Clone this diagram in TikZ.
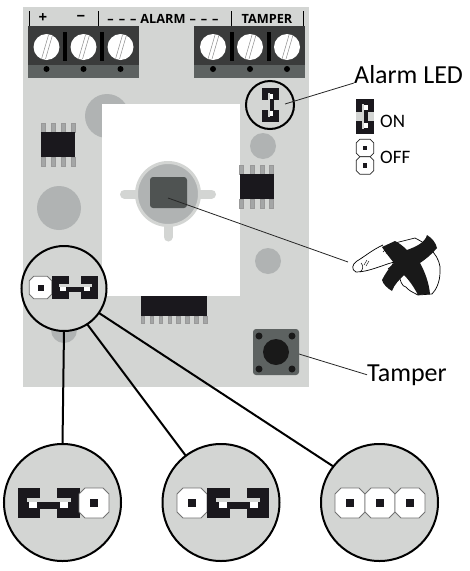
\documentclass[tikz,border=0pt]{standalone}
\usepackage{fontspec}
\setmainfont{Carlito}
\newfontfamily\boardfont[Scale=1]{Open Sans}
\definecolor{boardgrey}{HTML}{D3D5D3}
\definecolor{padgrey}{HTML}{B0B3B3}
\definecolor{termdark}{HTML}{3A3B3B}
\definecolor{termgrey}{HTML}{5D6261}
\definecolor{chipblack}{HTML}{1A181D}
\definecolor{leggrey}{HTML}{A4A6A6}
\colorlet{pinedge}{black!55}
\tikzstyle{pad} = [fill=padgrey]
\tikzstyle{disc} = [circle, draw=black, line width=2pt, fill=boardgrey, inner sep=0pt, outer sep=0pt]
\tikzstyle{wire} = [line width=2pt, black]
\tikzstyle{leader} = [line width=0.8pt, black!85]
\tikzstyle{callout} = [inner sep=0pt, font=\fontsize{26}{26}\selectfont]
\tikzstyle{state} = [inner sep=0pt, anchor=west, font=\fontsize{19}{19}\selectfont]
\tikzstyle{heading} = [inner sep=0pt, font=\boardfont\bfseries\fontsize{12.7}{13}\selectfont]
\tikzstyle{sign} = [inner sep=0pt, font=\boardfont\bfseries\fontsize{15}{15}\selectfont]
\tikzstyle{leg} = [fill=leggrey, draw=black!40, line width=0.3pt]
\tikzset{
  openpin/.pic={
    \draw[fill=white, draw=pinedge, line width=0.8pt]
      (-9,-15) -- (9,-15) -- (15,-9) -- (15,9) -- (9,15) -- (-9,15) -- (-15,9) -- (-15,-9) -- cycle;
    \fill[chipblack] (-4,-4) rectangle (4,4);
  },
  closedpair/.pic={
    \fill[chipblack] (-31,-15) rectangle (-8.5,15);
    \fill[chipblack] (8.5,-15) rectangle (31,15);
    \fill[boardgrey] (-8.5,-15) rectangle (8.5,-5);
    \fill[boardgrey] (-8.5,6) rectangle (8.5,15);
    \fill[boardgrey] (-22,-5) rectangle (22,-1);
    \fill[chipblack] (-12,-1) rectangle (12,6);
    \fill[white] (-19.5,-1) rectangle (-11.5,5);
    \fill[white] (11.5,-1) rectangle (19.5,5);
  },
  screw/.pic={
    \fill[white] (0,0) circle (13);
    \draw[black!45, line width=0.5pt] (-5,12) -- (2,-12) (-1,12) -- (6,-12);
  },
  soic/.pic={
    \foreach \px in {0,10.3,20.6,30} {
      \draw[leg] (\px,-9) rectangle ++(4,9);
      \draw[leg] (\px,25) rectangle ++(4,9);
    }
    \fill[chipblack] (0,0) rectangle (34,25);
  }
}
\begin{document}
\begin{tikzpicture}[x=1pt, y=-1pt]
  \useasboundingbox (0,0) rectangle (470,571);

  % board
  \fill[boardgrey] (23,7) rectangle (309,387);
  \fill[pad] (107,116) circle (22);
  \fill[pad] (59,208) circle (22);
  \fill[pad] (263,146) circle (13);
  \fill[pad] (268,261) circle (13);
  \fill[pad] (64,330) circle (13);
  \fill[white] (102,104) rectangle (239.5,296);

  % terminals
  \foreach \tx/\sa/\sb/\sc in {28/46.5/83.5/120.5, 194/213/250/287} {
    \fill[termdark] (\tx,26) rectangle ++(111,39);
    \fill[termgrey] (\tx,65) rectangle ++(111,13);
    \foreach \sx in {\sa,\sb,\sc} {
      \pic at (\sx,47) {screw};
      \fill[black] (\sx,69) circle (3);
    }
    \fill[black] (\sa+16.5,32) rectangle ++(4,29);
    \fill[black] (\sb+16.5,32) rectangle ++(4,29);
  }
  \foreach \tickx in {29.5,98.5,231.5,303} {
    \draw[black, line width=0.6pt] (\tickx,11) -- (\tickx,26);
  }
  \node[sign] (plus) at (43,18) {+};
  \node[sign] (minus) at (81,18) {\textminus};
  \node[heading] (alarm) at (163,18.5) {–\hspace{5pt}–\hspace{5pt}–\hspace{4pt}ALARM\hspace{4pt}–\hspace{5pt}–\hspace{5pt}–};
  \node[heading] (tamper) at (267,18.5) {TAMPER};

  % chips
  \pic at (41,132) {soic};
  \pic at (239.5,174) {soic};
  \foreach \i in {0,...,7} {
    \draw[leg] (141+\i*8.9,316) rectangle ++(3.6,7.5);
  }
  \fill[chipblack] (141,296) rectangle (207,316);

  % sensor
  \draw[boardgrey, line width=9pt, line cap=round] (124.5,194) -- (211.5,194);
  \draw[boardgrey, line width=9pt, line cap=round] (168,194) -- (168,237);
  \fill[padgrey, draw=boardgrey, line width=3pt] (168,194) circle (31.5);
  \fill[termgrey!85!black, rounded corners=3pt] (150,177) rectangle (187,208);

  % tamper button
  \fill[termgrey, rounded corners=3pt] (253,329) rectangle (299,375);
  \fill[black!90] (276,352) circle (13);
  \foreach \bx/\by in {259/336, 292/336, 259/369, 292/369} {
    \fill[black!90] (\bx,\by) circle (3.5);
  }

  % finger
  \draw[black, line width=0.7pt, fill=white]
    (383,245) .. controls (372,250) and (364,257) .. (357,261)
    .. controls (352,264) and (351,270) .. (356,272)
    .. controls (368,272) and (380,266) .. (394,262)
    .. controls (393,265) and (391,267) .. (388,269);
  \draw[black, line width=0.7pt]
    (395,243) -- (415,238) .. controls (428,244) and (442,258) .. (440,272)
    .. controls (440,282) and (436,290) .. (432,294) -- (418,295)
    .. controls (412,292) and (408,290) .. (406,287) .. controls (402,287) and (400,280) .. (399,275);
  \draw[black, line width=0.5pt] (361,263) .. controls (364,266) and (363,270) .. (360,272);
  \draw[black, line width=0.4pt] (364,265) -- (367,260) (366,266) -- (369,261) (383,252) -- (385,250) (386,254) -- (388,250);
  \fill[black!90] (382,247) -- (395,241)
    .. controls (399,243) and (403,246) .. (407,250)
    .. controls (415,247) and (425,243) .. (427,235)
    .. controls (432,238) and (436,243) .. (437,248)
    .. controls (432,254) and (426,259) .. (420,263)
    .. controls (425,272) and (429,283) .. (430,294)
    -- (418,295)
    .. controls (414,287) and (409,280) .. (404,275)
    .. controls (399,280) and (394,285) .. (392,291)
    .. controls (387,288) and (383,284) .. (382,280)
    .. controls (385,274) and (389,268) .. (394,263)
    .. controls (390,258) and (385,252) .. (382,247) -- cycle;

  % alarm jumper
  \node[disc, fill=none, minimum size=48pt] (ledring) at (270,105) {};
  \pic[scale=0.54, rotate=90] at (270.5,105) {closedpair};
  \pic[scale=0.57, rotate=90] at (365,116.5) {closedpair};
  \begin{scope}
    \colorlet{pinedge}{black!85}
    \pic[scale=0.58] at (365,148) {openpin};
    \pic[scale=0.58] at (365,165.5) {openpin};
  \end{scope}
  \node[state] (ontext) at (380,121) {ON};
  \node[state] (offtext) at (380,157) {OFF};
  \node[callout, anchor=base west] (ledtext) at (354,83) {Alarm LED};
  \node[callout, anchor=base west] (tampertext) at (367,381) {Tamper};

  % leaders
  \coordinate (ledstart) at (285,104);
  \coordinate (sensorstart) at (168,198);
  \coordinate (fingerend) at (348,262);
  \coordinate (buttonstart) at (299,354);
  \draw[leader] (ledstart) -- (ledtext.base west);
  \draw[leader] (sensorstart) -- (fingerend);
  \draw[leader] (buttonstart) -- (tampertext.west);

  % jumper settings
  \node[disc, minimum size=85pt] (zoomdisc) at (64,288.5) {};
  \pic[scale=0.75] at (40.5,287.5) {openpin};
  \pic[scale=0.75] at (75,287.5) {closedpair};

  \node[disc, minimum size=117pt] (leftdisc) at (62.5,502.5) {};
  \pic at (48.5,503) {closedpair};
  \pic at (94,503) {openpin};

  \node[disc, minimum size=117pt] (middisc) at (221,502.5) {};
  \pic at (192,503) {openpin};
  \pic at (238,503) {closedpair};

  \node[disc, minimum size=117pt] (rightdisc) at (379.5,502.5) {};
  \foreach \px in {350,380,410} {
    \pic at (\px,503) {openpin};
  }

  \draw[wire] (zoomdisc.south) -- (leftdisc.north);
  \draw[wire] (zoomdisc.-57) -- (middisc.127);
  \draw[wire] (zoomdisc.-35) -- (rightdisc.142);
\end{tikzpicture}
\end{document}
